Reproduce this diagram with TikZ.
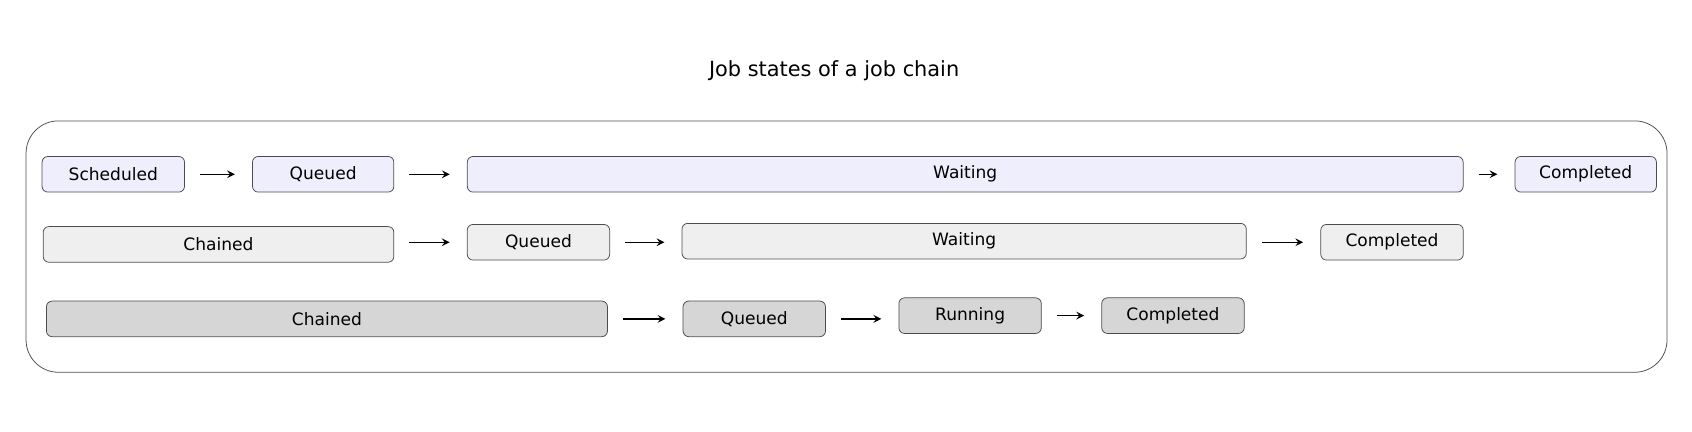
\documentclass[tikz,border=0pt]{standalone}
\usepackage{fontspec}
\setmainfont{DejaVu Sans}
\usetikzlibrary{arrows}
\definecolor{lav}{HTML}{EEEEFC}
\definecolor{lgray}{HTML}{EFEFEF}
\definecolor{dgray}{HTML}{D6D6D6}
\tikzstyle{arrow} = [thick,->,>=stealth,shorten <=0.28cm,shorten >=0.32cm]
\tikzstyle{jsa} = [draw=black!70, rounded corners=3pt, minimum height=0.66cm, inner sep=0pt, font=\fontsize{9}{10}\selectfont, fill=lav]
\tikzstyle{jsb} = [jsa, fill=lgray]
\tikzstyle{jsc} = [jsa, fill=dgray]
\begin{document}
\begin{tikzpicture}[x=0.02cm, y=-0.02cm]
		\useasboundingbox (0,0) rectangle (1568,400);
		\node (title) at (773,66) {\fontsize{11}{13}\selectfont Job states of a job chain};
		\node (frame) [draw=black!70, rounded corners=0.6cm, minimum width=30.42cm, minimum height=4.66cm] at (784.5,228.5) {};
		% first row
		\node (sched) [jsa, minimum width=2.64cm] at (105,161.5) {Scheduled};
		\node (q1) [jsa, minimum width=2.62cm] at (299.5,161.5) {Queued};
		\node (wait1) [jsa, minimum width=18.46cm] at (894.5,161.5) {Waiting};
		\node (comp1) [jsa, minimum width=2.62cm] at (1469.5,161.5) {Completed};
		\draw [arrow] (sched) -- (q1);
		\draw [arrow] (q1) -- (wait1);
		\draw [arrow] (wait1) -- (comp1);
		% second row
		\node (chain2) [jsb, minimum width=6.5cm] at (202.5,226.5) {Chained};
		\node (q2) [jsb, minimum width=2.64cm] at (499,224.5) {Queued};
		\node (wait2) [jsb, minimum width=10.46cm] at (893.5,223.5) {Waiting};
		\node (comp2) [jsb, minimum width=2.64cm] at (1290,224.5) {Completed};
		\draw [arrow] (chain2.east |- q2) -- (q2);
		\draw [arrow] (q2) -- (wait2.west |- q2);
		\draw [arrow] (wait2.east |- comp2) -- (comp2);
		% third row
		\node (chain3) [jsc, minimum width=10.4cm] at (303,295.5) {Chained};
		\node (q3) [jsc, minimum width=2.64cm] at (699,295.5) {Queued};
		\node (run3) [jsc, minimum width=2.64cm] at (899,292.5) {Running};
		\node (comp3) [jsc, minimum width=2.64cm] at (1087,292.5) {Completed};
		\draw [arrow] (chain3) -- (q3);
		\draw [arrow] (q3) -- (run3.west |- q3);
		\draw [arrow] (run3) -- (comp3);
\end{tikzpicture}
\end{document}
